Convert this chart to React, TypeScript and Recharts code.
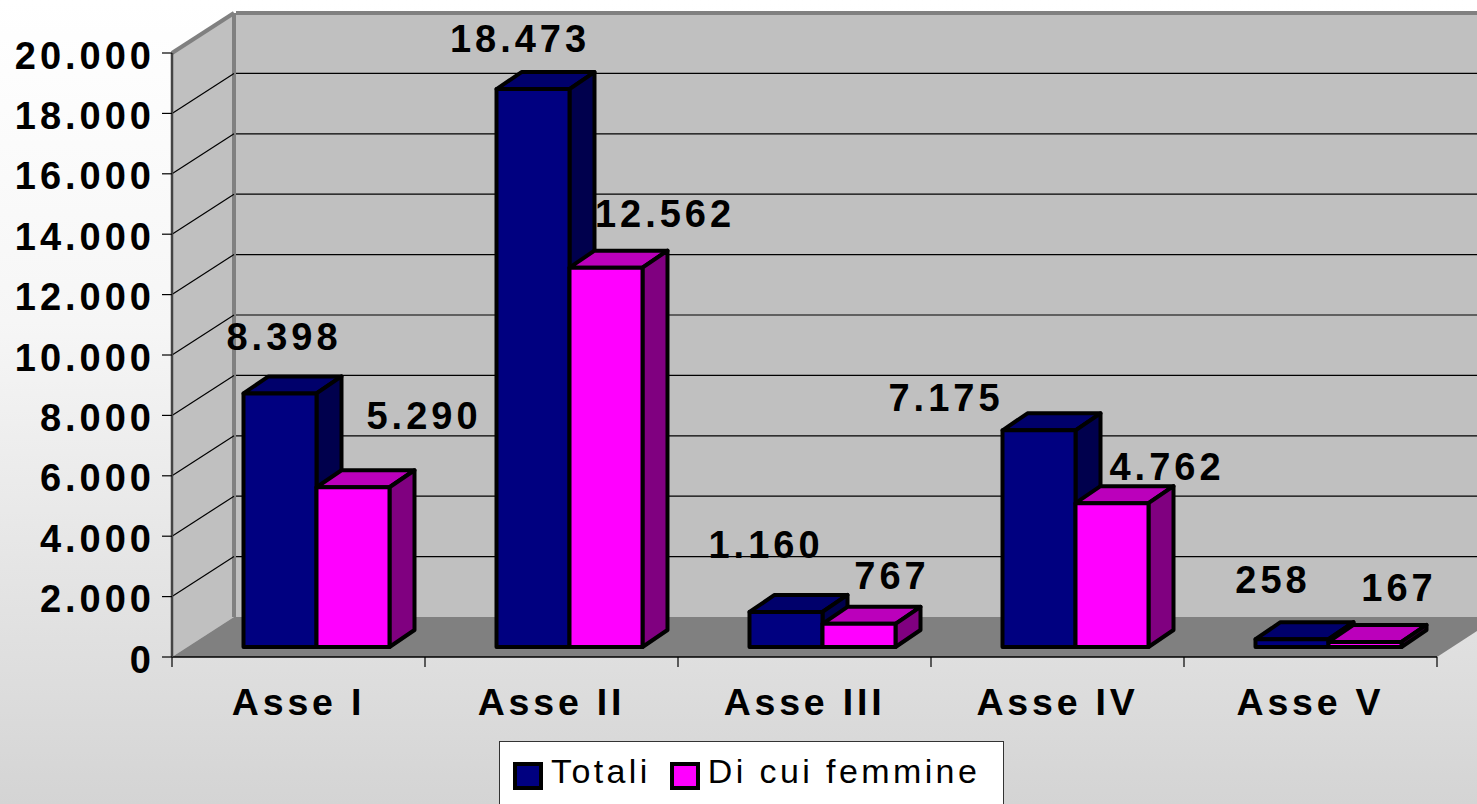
import React from "react";
import { BarChart, Bar, XAxis, YAxis, CartesianGrid, Legend, LabelList } from "recharts";

const categories = ["Asse I", "Asse II", "Asse III", "Asse IV", "Asse V"];
const totali = [8398, 18473, 1160, 7175, 258];
const femmine = [5290, 12562, 767, 4762, 167];
const yTicks = [0, 2000, 4000, 6000, 8000, 10000, 12000, 14000, 16000, 18000, 20000];
const totaliLabelOffset = [[4, -57], [-13, -51], [-20, -68], [-93, -33], [-19, -60]];
const femmineLabelOffset = [[71, -72], [59, -55], [33, -49], [55, -37], [34, -55]];

const data = categories.map((name, i) => ({ name, totali: totali[i], femmine: femmine[i] }));

const FONT = "'Liberation Sans', Arial, sans-serif";
const WALL_DX = 62;
const WALL_DY = -40;
const BAR_SHIFT_X = 17.5;
const BAR_SHIFT_Y = -10;
const BAR_DX = 25;
const BAR_DY = -17;
const BAND = 253;

const fmt = (v: number) => String(v).replace(/\B(?=(\d{3})+$)/g, ".");

const make3D = (top: string, side: string) => (p: any) => {
  const x = p.x + BAR_SHIFT_X;
  const y = p.y + BAR_SHIFT_Y;
  const w = p.width;
  const h = p.height;
  const sw = { stroke: "#000", strokeWidth: 4, strokeLinejoin: "round" as const };
  return (
    <g>
      <polygon points={`${x},${y} ${x + BAR_DX},${y + BAR_DY} ${x + w + BAR_DX},${y + BAR_DY} ${x + w},${y}`} fill={top} {...sw} />
      <polygon points={`${x + w},${y} ${x + w + BAR_DX},${y + BAR_DY} ${x + w + BAR_DX},${y + h + BAR_DY} ${x + w},${y + h}`} fill={side} {...sw} />
      <rect x={x} y={y} width={w} height={h} fill={p.fill} {...sw} />
    </g>
  );
};

const makeLabel = (offsets: number[][]) => (p: any) => {
  const [ox, oy] = offsets[p.index];
  return (
    <text
      x={p.x + BAR_SHIFT_X + p.width / 2 + ox}
      y={p.y + BAR_SHIFT_Y + oy + 14}
      textAnchor="middle"
      fontFamily={FONT}
      fontWeight="bold"
      fontSize={38}
      letterSpacing={4}
      fill="#000"
    >
      {fmt(p.value)}
    </text>
  );
};

const gridLine = (p: any) => {
  const { x1, x2, y1 } = p;
  const isTop = Math.abs(y1 - 53) < 1;
  const isFloor = Math.abs(y1 - 657) < 1;
  if (isFloor) return <g key={p.key ?? "floor"} />;
  const color = isTop ? "#808080" : "#000";
  const width = isTop ? 4 : 1.2;
  return (
    <g key={p.key ?? y1}>
      <line x1={x1} y1={y1} x2={x1 + WALL_DX} y2={y1 + WALL_DY} stroke={color} strokeWidth={width} />
      <line x1={x1 + WALL_DX + 2} y1={y1 + WALL_DY} x2={x2 + WALL_DX} y2={y1 + WALL_DY} stroke={color} strokeWidth={width} />
    </g>
  );
};

const XTick = (p: any) => {
  const last = p.index === categories.length - 1;
  return (
    <g>
      <line x1={p.x - BAND / 2} y1={p.y - 8} x2={p.x - BAND / 2} y2={p.y + 2} stroke="#000" strokeWidth={1.2} />
      {last && <line x1={p.x + BAND / 2} y1={p.y - 8} x2={p.x + BAND / 2} y2={p.y + 2} stroke="#000" strokeWidth={1.2} />}
      <text x={p.x} y={p.y + 50} textAnchor="middle" fontFamily={FONT} fontWeight="bold" fontSize={37.5} letterSpacing={3.8} fill="#000">
        {p.payload.value}
      </text>
    </g>
  );
};

const YTick = (p: any) => (
  <text x={155} y={p.y + 15.5} textAnchor="end" fontFamily={FONT} fontWeight="bold" fontSize={38} letterSpacing={4} fill="#000">
    {fmt(p.payload.value)}
  </text>
);

const legendItems = [
  { name: "Totali", color: "#000080" },
  { name: "Di cui femmine", color: "#ff00ff" },
];

const LegendBox = () => (
  <div
    style={{
      boxSizing: "border-box",
      width: 505,
      height: 70,
      background: "#fff",
      border: "1.5px solid #333",
      display: "flex",
      alignItems: "flex-start",
      paddingLeft: 13,
      fontFamily: FONT,
      fontSize: 34,
      letterSpacing: 3.4,
      color: "#000",
      lineHeight: "40px",
      whiteSpace: "nowrap",
    }}
  >
    {legendItems.map((it) => (
      <div key={it.name} style={{ display: "flex", alignItems: "flex-start", marginRight: 19 }}>
        <span
          style={{
            display: "inline-block",
            boxSizing: "border-box",
            width: 30,
            height: 28,
            marginTop: 20,
            marginRight: 8,
            background: it.color,
            border: "4px solid #000",
          }}
        />
        <span style={{ marginTop: 9 }}>{it.name}</span>
      </div>
    ))}
  </div>
);

const Walls = () => (
  <svg width={1477} height={804} style={{ position: "absolute", left: 0, top: 0 }}>
    <polygon points="172,53 234,13 1477,13 1477,617 234,617 172,657" fill="#c0c0c0" />
    <polygon points="172,657 234,617 1477,617 1477,631 1437,657" fill="#808080" />
    <line x1={234} y1={13} x2={234} y2={617} stroke="#808080" strokeWidth={4} />
  </svg>
);

export default function App() {
  return (
    <div
      style={{
        position: "absolute",
        left: 0,
        top: 0,
        width: 1477,
        height: 804,
        overflow: "hidden",
        background: "linear-gradient(180deg, #ffffff 0%, #f6f6f6 40%, #dddddd 85%, #d4d4d4 100%)",
      }}
    >
      <Walls />
      <BarChart
        width={1477}
        height={804}
        data={data}
        margin={{ top: 53, right: 40, bottom: 87, left: 0 }}
        barSize={73}
        barGap={0}
        style={{ position: "absolute", left: 0, top: 0 }}
      >
        <CartesianGrid vertical={false} horizontal={gridLine as any} />
        <XAxis dataKey="name" height={60} axisLine={{ stroke: "#000", strokeWidth: 1.5 }} tickLine={false} tick={<XTick />} interval={0} />
        <YAxis
          width={172}
          domain={[0, 20000]}
          ticks={yTicks}
          tickSize={10}
          axisLine={{ stroke: "#444", strokeWidth: 2.5 }}
          tickLine={{ stroke: "#000", strokeWidth: 1.2 }}
          tick={<YTick />}
          interval={0}
        />
        <Bar dataKey="totali" fill="#000080" isAnimationActive={false} shape={make3D("#00006b", "#00004d")}>
          <LabelList dataKey="totali" content={makeLabel(totaliLabelOffset) as any} />
        </Bar>
        <Bar dataKey="femmine" fill="#ff00ff" isAnimationActive={false} shape={make3D("#bb00bb", "#800080")}>
          <LabelList dataKey="femmine" content={makeLabel(femmineLabelOffset) as any} />
        </Bar>
        <Legend
          layout="horizontal"
          verticalAlign="middle"
          align="center"
          content={<LegendBox />}
          wrapperStyle={{ position: "absolute", left: 499, top: 741, width: 505, height: 70, margin: 0 }}
        />
      </BarChart>
    </div>
  );
}
